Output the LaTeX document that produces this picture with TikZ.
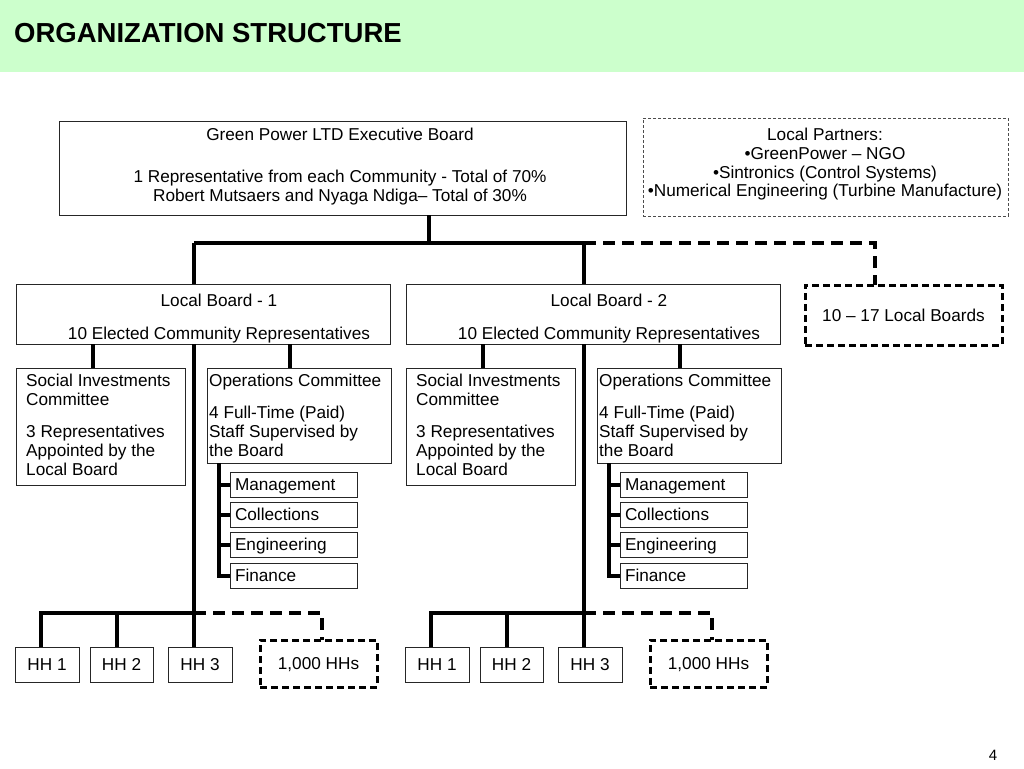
\documentclass[tikz,border=0pt]{standalone}
\usepackage{fontspec}
\setmainfont{Liberation Sans}
\definecolor{hdrgreen}{HTML}{CCFFCC}
\newcommand\orgbranch[3]{%
\begin{scope}[xshift=#2]
\node[box,minimum width=374,minimum height=60] (lb#1) at (16,284) {};
\node[txt,align=center,anchor=north] (lbt#1) at (219,294) {Local Board - #3\\[14pt]10 Elected Community Representatives};
\node[box,minimum width=169,minimum height=117] (si#1) at (16,368) {};
\node[txt,align=left,anchor=north west] (sit#1) at (26,374) {Social Investments\\Committee\\[13pt]3 Representatives\\Appointed by the\\Local Board};
\node[box,minimum width=184,minimum height=95] (op#1) at (207,368) {};
\node[txt,align=left,anchor=north west] (opt#1) at (209,374) {Operations Committee\\[13pt]4 Full-Time (Paid)\\Staff Supervised by\\the Board};
\node[sub] (m#1) at (230,472) {Management};
\node[sub] (c#1) at (230,502) {Collections};
\node[sub] (e#1) at (230,532) {Engineering};
\node[sub] (f#1) at (230,563) {Finance};
\node[box,txt,ctr,minimum width=64,minimum height=35] (hha#1) at (15,647) {HH 1};
\node[box,txt,ctr,minimum width=63,minimum height=35] (hhb#1) at (90,647) {HH 2};
\node[box,txt,ctr,minimum width=64,minimum height=35] (hhc#1) at (168,647) {HH 3};
\node[dbox,txt,ctr,minimum width=117,minimum height=47] (k#1) at (260,640) {1,000 HHs};
\coordinate (top#1) at (194,243);
\coordinate (hb#1) at (194,613);
\coordinate (sa#1) at (93,344);
\coordinate (sb#1) at (290,344);
\coordinate (br#1) at (219,463);
\coordinate (ha#1) at (41,613);
\coordinate (hc#1) at (117,613);
\coordinate (dd#1) at (322,613);
\draw[conn] (top#1) -- (top#1 |- lb#1.north);
\draw[conn] (hb#1 |- lb#1.south) -- (hb#1) -- (hb#1 |- hhc#1.north);
\draw[conn] (sa#1) -- (sa#1 |- si#1.north);
\draw[conn] (sb#1) -- (sb#1 |- op#1.north);
\draw[conn] (br#1) -- (br#1 |- f#1.west) -- (f#1.west);
\draw[conn] (br#1 |- m#1.west) -- (m#1.west);
\draw[conn] (br#1 |- c#1.west) -- (c#1.west);
\draw[conn] (br#1 |- e#1.west) -- (e#1.west);
\draw[conn] (hb#1) -- (ha#1) -- (ha#1 |- hha#1.north);
\draw[conn] (hc#1) -- (hc#1 |- hhb#1.north);
\draw[dconn] (hb#1) -- (dd#1) -- (dd#1 |- k#1.north);
\end{scope}}
\begin{document}
\begin{tikzpicture}[x=1pt,y=-1pt,
  box/.style={draw=black!85,line width=0.9pt,fill=white,rectangle,inner sep=0pt,outer sep=0pt,anchor=north west},
  txt/.style={inner sep=0pt,font=\fontsize{17.2}{19}\selectfont},
  ctr/.style={text height=12.3pt,text depth=0pt},
  sub/.style={box,txt,ctr,minimum height=25,text width=117pt,inner xsep=5pt,align=left},
  conn/.style={line width=4pt},
  dconn/.style={line width=4pt,dash pattern=on 12pt off 7pt},
  dbox/.style={box,line width=3pt,draw=black,dash pattern=on 7pt off 4pt},
  pbox/.style={box,draw=black!70,line width=0.8pt,dash pattern=on 3pt off 2pt}]
\useasboundingbox (0,0) rectangle (1024,768);
\fill[hdrgreen] (0,0) rectangle (1024,72);
\node[anchor=base west,inner sep=0pt,font=\fontsize{27.5}{30}\selectfont\bfseries] (title) at (14,43) {ORGANIZATION STRUCTURE};

\node[box,minimum width=567,minimum height=94] (exec) at (59,121) {};
\node[txt,align=center,anchor=north] (exect) at (340,128) {Green Power LTD Executive Board\\[23pt]1 Representative from each Community - Total of 70\%\\Robert Mutsaers and Nyaga Ndiga– Total of 30\%};

\node[pbox,minimum width=365,minimum height=98] (part) at (643,118) {};
\node[txt,align=center,anchor=north,font=\fontsize{17.2}{18.7}\selectfont] (partt) at (825,128) {Local Partners:\\•GreenPower – NGO\\•Sintronics (Control Systems)\\•Numerical Engineering (Turbine Manufacture)};

\node[dbox,txt,ctr,minimum width=197,minimum height=60] (more) at (805,285) {10 – 17 Local Boards};

\orgbranch{1}{0}{1}
\orgbranch{2}{390}{2}

\coordinate (busJ) at (429,243);
\coordinate (busR) at (584,243);
\coordinate (busD) at (875,243);
\draw[conn] (exec.south -| busJ) -- (busJ);
\draw[conn] (top1) -- (busR);
\draw[dconn] (busR) -- (busD) -- (busD |- more.north);

\node[anchor=base,inner sep=0pt,font=\fontsize{15}{17}\selectfont] (pg) at (993,760) {4};
\end{tikzpicture}
\end{document}
